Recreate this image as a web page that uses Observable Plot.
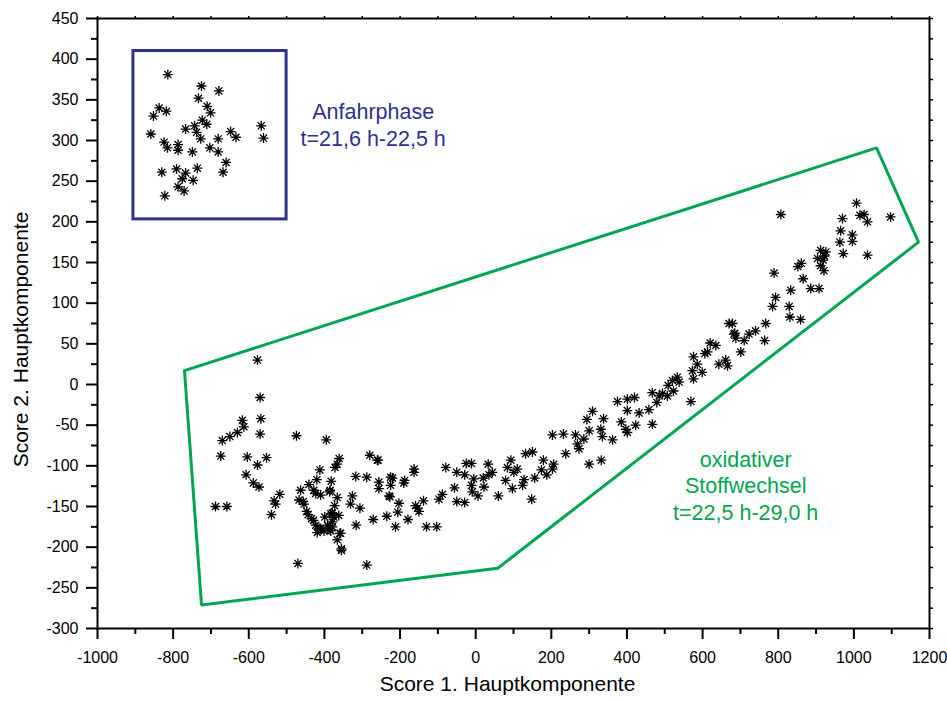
<!DOCTYPE html>
<html>
<head>
<meta charset="utf-8">
<script src="https://cdn.jsdelivr.net/npm/d3@7"></script>
<script src="https://cdn.jsdelivr.net/npm/@observablehq/plot@0.6"></script>
<style>
  html, body { margin: 0; padding: 0; background: #fff; overflow: hidden; }
  #chart svg { display: block; }
</style>
</head>
<body>
<div id="chart"></div>
<script>
// ---- data (Score 1 / Score 2) ----
const startupPoints = [
  [-814,381],[-725,367],[-679,361],[-733,352],[-710,342],[-701,334],[-837,340],[-818,336],
  [-852,330],[-723,325],[-711,320],[-743,318],[-767,314],[-738,310],[-727,302],[-859,308],
  [-824,298],[-815,291],[-787,295],[-787,288],[-749,286],[-703,291],[-681,302],[-681,286],
  [-648,311],[-634,304],[-567,318],[-561,303],[-660,273],[-668,261],[-736,266],[-830,261],
  [-791,265],[-767,260],[-776,253],[-747,251],[-787,243],[-771,238],[-822,232]
];

const oxidativePoints = [
  // left arm
  [-577,30],[-570,-16],[-568,-42],[-570,-61],[-617,-44],[-613,-52],[-630,-59],[-650,-64],
  [-670,-69],[-674,-88],[-604,-89],[-553,-90],[-577,-99],[-607,-111],[-588,-121],[-573,-126],
  [-474,-63],[-395,-68],[-688,-150],[-658,-150],[-518,-135],[-529,-147],[-533,-143],[-540,-160],
  [-470,-220],[-288,-222],[-355,-204],[-366,-191],
  // dense cluster
  [-361,-91],[-366,-98],[-372,-102],[-412,-105],[-280,-87],[-260,-93],[-317,-113],[-288,-114],
  [-420,-117],[-441,-123],[-463,-130],[-467,-142],[-454,-147],[-456,-144],[-382,-119],[-386,-132],
  [-423,-134],[-410,-136],[-366,-139],[-326,-137],[-331,-147],[-306,-152],[-373,-149],[-447,-156],
  [-443,-160],[-429,-167],[-423,-173],[-410,-177],[-399,-163],[-383,-159],[-375,-163],[-362,-161],
  [-392,-173],[-379,-175],[-383,-180],[-359,-183],[-316,-173],[-271,-166],[-419,-182],[-428,-130],
  [-385,-130],[-379,-158],[-434,-165],[-379,-169],[-414,-177],[-401,-180],[-385,-179],[-357,-183],
  [-355,-202],[-225,-114],[-227,-138],
  // middle band
  [-258,-93],[-229,-137],[-225,-124],[-220,-115],[-256,-120],[-256,-128],[-188,-118],[-190,-121],
  [-203,-146],[-206,-157],[-179,-166],[-212,-175],[-235,-162],[-163,-104],[-163,-108],[-130,-175],
  [-103,-175],[-138,-143],[-154,-152],[-150,-156],[-159,-149],[-79,-102],[-88,-135],[-97,-141],
  [-50,-108],[-56,-127],[-50,-144],[-29,-145],[-29,-111],[-25,-97],[-11,-97],[-5,-116],
  [-11,-124],[-9,-132],[6,-137],[20,-115],[22,-126],[33,-98],[44,-108],[35,-111],
  [60,-137],[79,-118],[97,-128],[84,-102],[93,-93],[110,-104],[101,-108],[124,-124],
  [128,-117],[148,-141],[132,-85],[150,-83],[156,-115],[174,-105],[179,-93],[188,-111],
  [203,-104],[206,-98],[203,-62],[232,-61],[238,-85],
  // rising band
  [264,-62],[269,-73],[273,-79],[286,-67],[300,-57],[331,-55],[335,-64],[362,-68],
  [300,-98],[332,-93],[294,-43],[309,-33],[338,-42],[375,-21],[401,-18],[420,-16],
  [401,-32],[432,-35],[385,-46],[397,-55],[401,-59],[423,-50],[467,-49],[458,-31],
  [467,-10],[479,-22],[485,-14],[494,-11],[509,-1],[507,-14],[520,5],[533,9],
  [538,3],[523,-8],[569,-21],[576,34],[586,25],[573,17],[576,7],[599,15],
  [606,38],[613,40],[620,51],[635,48],[643,25],[661,30],[666,23],[701,40],
  [683,62],[710,54],[679,75],[670,75],[723,62],[685,63],[688,57],
  // upper right
  [764,54],[740,66],[767,75],[831,83],[859,80],[785,96],[829,96],[793,107],
  [833,116],[886,118],[908,118],[866,130],[789,137],[852,145],[861,149],[912,146],
  [921,140],[904,155],[919,153],[912,165],[926,163],[922,158],[972,161],[1036,159],
  [963,175],[996,176],[996,184],[965,189],[970,204],[1036,200],[1016,208],[1027,209],
  [1007,223],[1097,206],[807,209]
];

// region outlines
const startupBox = [{x1: -905, x2: -500, y1: 203, y2: 410}];
const oxidativeHull = [
  [-770,17],[1060,291],[1171,175],[58,-226],[-725,-271],[-770,17]
];

// annotation texts
const labels = [
  {x: -271, y: 320.5, text: "Anfahrphase\nt=21,6 h-22,5 h", group: "startup"},
  {x: 714, y: -123.3, text: "oxidativer\nStoffwechsel\nt=22,5 h-29,0 h", group: "oxid"}
];

const xMajor = d3.range(-1000, 1201, 200);
const xMinor = d3.range(-900, 1200, 200);
const xTop = d3.range(-1000, 1201, 100);
const yMajor = d3.range(-300, 451, 50);
const yMinor = d3.range(-275, 450, 50);
const yRight = d3.range(-300, 451, 25);

const xTitle = "Score 1. Hauptkomponente";
const yTitle = "Score 2. Hauptkomponente";

const BLUE = "#2e3192";
const GREEN = "#00a651";

// 8-arm asterisk symbol
const star = {
  draw(ctx, size) {
    const r = Math.sqrt(size / Math.PI);
    const d = r * Math.SQRT1_2;
    ctx.moveTo(0, -r); ctx.lineTo(0, r);
    ctx.moveTo(-r, 0); ctx.lineTo(r, 0);
    ctx.moveTo(-d, -d); ctx.lineTo(d, d);
    ctx.moveTo(-d, d); ctx.lineTo(d, -d);
  }
};

const allPoints = startupPoints.concat(oxidativePoints);

const chart = Plot.plot({
  width: 947,
  height: 701,
  marginLeft: 97,
  marginRight: 18,
  marginTop: 18,
  marginBottom: 73,
  style: {fontFamily: "'Liberation Sans', Arial, Helvetica, sans-serif", fontSize: "16px", background: "#fff", color: "#000"},
  x: {domain: [-1000, 1200]},
  y: {domain: [-300, 450]},
  marks: [
    // region outlines
    Plot.line(oxidativeHull, {x: d => d[0], y: d => d[1], stroke: GREEN, strokeWidth: 3, strokeLinejoin: "miter"}),
    Plot.rect(startupBox, {x1: "x1", x2: "x2", y1: "y1", y2: "y2", fill: "none", stroke: BLUE, strokeWidth: 3}),
    // points
    Plot.dot(allPoints, {x: d => d[0], y: d => d[1], symbol: star, r: 5, fill: "none", stroke: "#000", strokeWidth: 1.3}),
    // annotations
    Plot.text(labels.filter(d => d.group === "startup"), {x: "x", y: "y", text: "text", fill: BLUE, fontSize: 21.5, lineHeight: 1.25}),
    Plot.text(labels.filter(d => d.group === "oxid"), {x: "x", y: "y", text: "text", fill: GREEN, fontSize: 21.5, lineHeight: 1.25}),
    // axes
    Plot.axisX({ticks: xMajor, tickSize: 11, tickPadding: 12, strokeWidth: 2, fontSize: 16, tickFormat: d => String(d), label: null}),
    Plot.axisX({ticks: xMinor, tickSize: 6, strokeWidth: 2, text: null, label: null}),
    Plot.axisX({anchor: "top", ticks: xTop, tickSize: 3, strokeWidth: 1.5, text: null, label: null}),
    Plot.axisY({ticks: yMajor, tickSize: 11, tickPadding: 8, strokeWidth: 2, fontSize: 16, tickFormat: d => String(d), label: null}),
    Plot.axisY({ticks: yMinor, tickSize: 6, strokeWidth: 2, text: null, label: null}),
    Plot.axisY({anchor: "right", ticks: yRight, tickSize: 3, strokeWidth: 1.5, text: null, label: null}),
    Plot.frame({stroke: "#000", strokeWidth: 2}),
    // axis titles
    Plot.text([xTitle], {frameAnchor: "bottom", dy: 62, dx: -6, fontSize: 21, fill: "#000"}),
    Plot.text([yTitle], {frameAnchor: "left", textAnchor: "middle", rotate: -90, dx: -76, dy: 16, fontSize: 21, fill: "#000"})
  ]
});

document.getElementById("chart").appendChild(chart);
</script>
</body>
</html>
